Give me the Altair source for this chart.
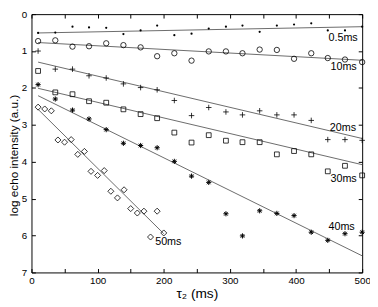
import altair as alt
import pandas as pd

# ---------------- data ----------------
x_main = [10, 36, 62, 87, 113, 139, 165, 190, 216, 242, 268, 294, 319, 345, 371, 397, 423, 448, 474, 500]
x_50 = [10, 20, 30, 40, 50, 60, 70, 80, 90, 100, 110, 120, 130, 140, 150, 160, 170, 180, 190, 200]

y_05 = [0.51, 0.50, 0.34, 0.36, 0.37, 0.54, 0.44, 0.31, 0.57, 0.53, 0.39, 0.34, 0.31, 0.48, 0.31, 0.28, 0.25, 0.44, 0.44, 0.34]
y_10 = [0.73, 0.71, 0.88, 0.87, 0.79, 0.84, 0.90, 1.14, 1.06, 1.26, 1.01, 1.01, 1.06, 0.96, 0.97, 1.21, 1.06, 1.19, 1.23, 1.30]
y_20 = [1.00, 1.49, 1.49, 1.67, 1.73, 1.89, 1.99, 2.05, 2.34, 2.75, 2.53, 2.65, 2.73, 2.62, 2.73, 2.73, 2.88, 3.40, 3.40, 3.42]
y_30 = [1.54, 2.12, 2.17, 2.36, 2.40, 2.58, 2.71, 2.82, 3.21, 3.48, 3.28, 3.43, 3.47, 3.47, 3.80, 3.71, 3.80, 4.26, 4.11, 4.37]
y_40 = [1.91, 2.30, 2.60, 2.84, 3.13, 3.50, 3.56, 3.62, 3.99, 4.39, 4.56, 5.41, 6.01, 5.33, 5.40, 5.46, 5.91, 6.13, 5.95, 5.91]
y_50 = [2.52, 2.57, 2.62, 3.41, 3.47, 3.40, 3.80, 3.72, 4.26, 4.37, 4.24, 4.80, 4.98, 4.76, 5.27, 5.39, 5.34, 6.04, 5.34, 5.93]

# fitted lines (start / end)
fit_names = ["0.5ms", "10ms", "20ms", "30ms", "40ms", "50ms"]
fit_x_start = [10, 10, 10, 10, 10, 10]
fit_x_end = [500, 500, 500, 500, 500, 200]
fit_y_start = [0.51, 0.77, 1.30, 2.01, 2.21, 2.58]
fit_y_end = [0.34, 1.25, 3.37, 4.08, 6.55, 5.95]

# series labels
label_text = ["0.5ms", "10ms", "20ms", "30ms", "40ms", "50ms"]
label_x = [449, 452, 451, 452, 449, 187]
label_y = [0.66, 1.43, 3.08, 4.47, 5.76, 6.17]

x_ticks = [0, 50, 100, 150, 200, 250, 300, 350, 400, 450, 500]
y_ticks = [0, 1, 2, 3, 4, 5, 6, 7]

FONT = "Liberation Sans"

# ---------------- scales / axes ----------------
xs = alt.Scale(domain=[0, 500], nice=False, zero=False)
ys = alt.Scale(domain=[0, 7], nice=False, zero=False, reverse=True)

x_axis = alt.Axis(values=x_ticks, labelExpr="datum.value % 100 == 0 ? datum.label : ''",
                  offset=-4, tickSize=4, domain=False, labelPadding=3, grid=False,
                  title="τ₂ (ms)", titleFontSize=14, titleFontWeight="normal",
                  titlePadding=2, titleFont=FONT, titleColor="black",
                  labelFont=FONT, labelFontSize=10, labelColor="black",
                  tickColor="black", labelFlush=False, labelOverlap=False)
y_axis = alt.Axis(values=y_ticks, offset=-4, tickSize=4, domain=False, labelPadding=5,
                  grid=False, title="log echo intensity (a.u.)", titleFontSize=12,
                  titleFontWeight="normal", titleFont=FONT, titleColor="black",
                  titlePadding=1, titleY=144,
                  labelFont=FONT, labelFontSize=10, labelColor="black",
                  tickColor="black", labelFlush=False, labelOverlap=False)

X = lambda: alt.X("x:Q", scale=xs, axis=x_axis)
Y = lambda: alt.Y("y:Q", scale=ys, axis=y_axis)

plus_path = "M-1,0L1,0M0,-1L0,1"
star_path = "M-1,0L1,0M0,-1L0,1M-0.7,-0.7L0.7,0.7M-0.7,0.7L0.7,-0.7"

series = [
    (x_main, y_05, dict(shape="circle", filled=True, size=5)),
    (x_main, y_10, dict(shape="circle", filled=False, size=30, strokeWidth=0.8)),
    (x_main, y_20, dict(shape=plus_path, filled=False, size=32, strokeWidth=0.8)),
    (x_main, y_30, dict(shape="square", filled=False, size=24, strokeWidth=0.8)),
    (x_main, y_40, dict(shape=star_path, filled=False, size=28, strokeWidth=1.0)),
    (x_50, y_50, dict(shape="diamond", filled=False, size=38, strokeWidth=0.8)),
]

fit_df = pd.DataFrame({"name": fit_names, "x": fit_x_start, "x2": fit_x_end,
                       "y": fit_y_start, "y2": fit_y_end})
lines = alt.Chart(fit_df).mark_rule(color="#444444", strokeWidth=0.8).encode(
    x=X(), x2="x2:Q", y=Y(), y2="y2:Q")

layers = [lines]
for xv, yv, style in series:
    df = pd.DataFrame({"x": xv, "y": yv})
    layers.append(alt.Chart(df).mark_point(color="black", opacity=1, **style).encode(x=X(), y=Y()))

lab_df = pd.DataFrame({"t": label_text, "x": label_x, "y": label_y})
labels = alt.Chart(lab_df).mark_text(align="left", baseline="middle", fontSize=11,
                                     font=FONT, color="black").encode(
    x=X(), y=Y(), text="t:N")
layers.append(labels)

main = alt.layer(*layers)

# opposite-side axes carrying inward ticks only
tick_df = pd.DataFrame({"x": x_ticks[:8], "y": y_ticks})
ticks = alt.Chart(tick_df).mark_point(opacity=0).encode(
    x=alt.X("x:Q", scale=xs, axis=alt.Axis(orient="top", values=x_ticks, labels=False,
                                            offset=-4, tickSize=4, domain=False, grid=False,
                                            title=None, tickColor="black")),
    y=alt.Y("y:Q", scale=ys, axis=alt.Axis(orient="right", values=y_ticks, labels=False,
                                            offset=-4, tickSize=4, domain=False, grid=False,
                                            title=None, tickColor="black")),
)

chart = alt.layer(main, ticks).resolve_axis(x="independent", y="independent").properties(
    width=338, height=264,
    autosize=alt.AutoSizeParams(type="none"),
    padding={"left": 24, "top": 3, "right": 8, "bottom": 30},
).configure_view(stroke="black", strokeWidth=1)

chart.save("out.html", embed_options={"renderer": "svg", "actions": False})
